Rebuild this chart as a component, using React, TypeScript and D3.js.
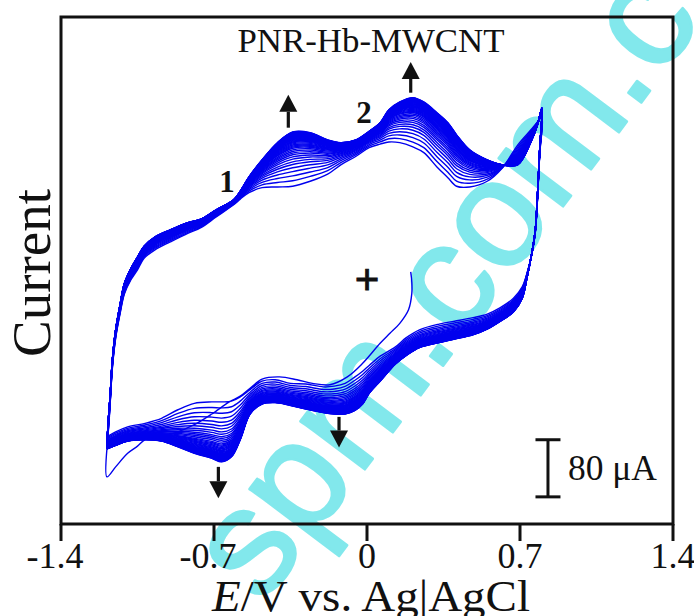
import React from 'react';
import * as d3 from 'd3';

// ---- axis ----
const xTicks = [-1.4, -0.7, 0, 0.7, 1.4];

// ---- forward (anodic) scan, potentials in V and currents in µA ----
const fwdE = [-1.185, -1.175, -1.165, -1.15, -1.13, -1.11, -1.08, -1.05, -1.02, -0.97, -0.9, -0.82, -0.76, -0.69, -0.61, -0.58, -0.54, -0.48, -0.41, -0.34, -0.26, -0.18, -0.12, -0.05, 0.01, 0.06, 0.1, 0.15, 0.21, 0.26, 0.32, 0.37, 0.41, 0.47, 0.55, 0.62, 0.69, 0.75, 0.78, 0.8];
const fwdFirst = [-215, -171, -122, -80, -46, -18, 2, 16, 32, 44, 55, 67, 75, 90, 107, 115, 124, 131, 132, 133, 140, 150, 163, 175, 187, 192, 195, 194, 188, 180, 160, 145, 133, 132, 140, 159, 191, 212, 223, 229];
const fwdLast = [-201, -159, -110, -68, -33, -3, 18, 34, 49, 62, 72, 82, 87, 100, 114, 126, 146, 170, 194, 209, 208, 198, 194, 198, 210, 222, 240, 251, 257, 251, 236, 222, 205, 184, 170, 163, 163, 195, 219, 243];

// ---- reverse (cathodic) scan ----
const revE = [0.79, 0.78, 0.77, 0.755, 0.73, 0.71, 0.67, 0.61, 0.55, 0.485, 0.4, 0.33, 0.24, 0.18, 0.13, 0.06, 0.01, -0.02, -0.055, -0.1, -0.15, -0.2, -0.28, -0.35, -0.42, -0.48, -0.535, -0.58, -0.62, -0.665, -0.71, -0.79, -0.865, -0.94, -1.015, -1.095, -1.15, -1.19];
const revFirst = [177, 114, 68, 39, 9, -8, -24, -37, -46, -51, -56, -60, -68, -79, -92, -105, -118, -126, -134, -143, -147, -148, -144, -143, -138, -140, -152, -162, -168, -169, -169, -171, -180, -192, -199, -204, -211, -218];
const revLast = [184, 121, 72, 41, 2, -24, -43, -56, -67, -75, -81, -86, -93, -104, -116, -140, -157, -172, -181, -186, -186, -184, -179, -174, -170, -172, -186, -222, -246, -253, -248, -241, -232, -224, -222, -224, -230, -235];

// ---- first sweep, starting at 0.2 V going negative ----
const initE = [0.2, 0.205, 0.205, 0.19, 0.15, 0.105, 0.06, -0.02, -0.09, -0.17, -0.25, -0.32, -0.4, -0.48, -0.535, -0.58, -0.63, -0.71, -0.79, -0.865, -0.94, -1.015, -1.05, -1.095, -1.15, -1.19];
const initI = [13, -1, -17, -40, -59, -73, -87, -115, -134, -145, -143, -138, -134, -137, -150, -161, -169, -186, -201, -211, -218, -222, -231, -241, -260, -274];

// ---- growth of each successive cycle between the first and last curve ----
const cycleFractions = [0, 0.1, 0.19, 0.27, 0.34, 0.4, 0.45, 0.5, 0.54, 0.58, 0.61, 0.64, 0.67, 0.7, 0.72, 0.74, 0.76, 0.78, 0.8, 0.815, 0.83, 0.845, 0.86, 0.87, 0.88, 0.89, 0.9, 0.91, 0.92, 0.925, 0.93, 0.935, 0.94, 0.945, 0.95, 0.955, 0.96, 0.965, 0.97, 0.975, 0.98, 0.985, 0.99, 0.995, 1];

// ---- annotations (data units) ----
const arrowE = [-0.36, 0.2, -0.68, -0.128];
const arrowFrom = [215, 264, -260, -190];
const arrowTo = [261, 307, -304, -233];
const peakLabels = ['1', '2'];
const peakLabelE = [-0.64, -0.014];
const peakLabelI = [125, 222];
const scaleBarUA = 80;
const scaleBarE = 0.828;
const scaleBarTopI = -222;

export default function App() {
  const W = 694;
  const H = 616;
  const L = 61, R = 673, T = 17, B = 524;
  const x = d3.scaleLinear().domain([-1.4, 1.4]).range([L, R]);
  const y = d3.scaleLinear().domain([-340, 370]).range([B, T]);
  const line = d3
    .line<[number, number]>()
    .x((d) => x(d[0]))
    .y((d) => y(d[1]))
    .curve(d3.curveCatmullRom.alpha(0.5));

  const mix = (a: number[], b: number[], f: number) => a.map((v, i) => v + f * (b[i] - v));

  const paths: string[] = [];
  let prev: [number, number][] = initE.map((e, i) => [e, initI[i]] as [number, number]);
  cycleFractions.forEach((f) => {
    const fw = mix(fwdFirst, fwdLast, f);
    const rv = mix(revFirst, revLast, f);
    const pts: [number, number][] = [
      ...prev,
      ...fwdE.map((e, i) => [e, fw[i]] as [number, number]),
      ...revE.map((e, i) => [e, rv[i]] as [number, number]),
    ];
    paths.push(line(pts) || '');
    prev = [[revE[revE.length - 1], rv[rv.length - 1]]];
  });

  const serif = '"Liberation Serif", "Times New Roman", serif';

  const arrows = arrowE.map((e, i) => {
    const ax = x(e);
    const y1 = y(arrowFrom[i]);
    const y2 = y(arrowTo[i]);
    const dir = y2 < y1 ? -1 : 1;
    const headL = 17;
    const headW = 9;
    const baseY = y2 - dir * headL;
    return (
      <g key={'a' + i}>
        <line x1={ax} x2={ax} y1={y1} y2={baseY} stroke="#111" strokeWidth={3.2} />
        <path d={`M${ax},${y2} L${ax - headW},${baseY} L${ax + headW},${baseY} Z`} fill="#111" />
      </g>
    );
  });

  const sbx = x(scaleBarE);
  const sbTop = y(scaleBarTopI);
  const sbBot = y(scaleBarTopI - scaleBarUA);

  return (
    <svg
      width={W}
      height={H}
      viewBox={`0 0 ${W} ${H}`}
      style={{ position: 'fixed', left: 0, top: 0, display: 'block', background: '#fff' }}
    >
      <rect x={0} y={0} width={W} height={H} fill="#fff" />
      {/* watermark */}
      <text
        transform="translate(262,606) rotate(-53)"
        fontFamily='"Liberation Sans", Arial, sans-serif'
        fontSize={152}
        fill="#82e8ec"
        stroke="#82e8ec"
        strokeWidth={2.5}
        strokeLinejoin="round"
      >
        spm.com.cn
      </text>

      {/* curves */}
      <g fill="none" stroke="#0000ee" strokeWidth={1.4} strokeLinejoin="round">
        {paths.map((d, i) => (
          <path key={i} d={d} />
        ))}
      </g>

      {/* frame */}
      <rect x={L} y={T} width={R - L} height={B - T} fill="none" stroke="#111" strokeWidth={3} />
      {xTicks.map((t) => (
        <g key={t}>
          <line x1={x(t)} x2={x(t)} y1={B} y2={B + 17} stroke="#111" strokeWidth={3} />
          <text
            x={x(t) + (t < 0 ? -6 : 0)}
            y={568}
            textAnchor="middle"
            fontFamily={serif}
            fontSize={36}
            fill="#111"
          >
            {t === 0 ? '0' : String(t)}
          </text>
        </g>
      ))}

      {/* axis titles */}
      <text
        x={371}
        y={611}
        textAnchor="middle"
        fontFamily={serif}
        fontSize={44}
        fill="#111"
        textLength={318}
        lengthAdjust="spacingAndGlyphs"
      >
        <tspan fontStyle="italic">E</tspan>
        <tspan>/V vs. Ag|AgCl</tspan>
      </text>
      <text
        transform="translate(50,273) rotate(-90)"
        textAnchor="middle"
        fontFamily={serif}
        fontSize={55}
        fill="#111"
      >
        Current
      </text>

      {/* title */}
      <text
        x={371}
        y={52}
        textAnchor="middle"
        fontFamily={serif}
        fontSize={33}
        fill="#111"
        textLength={267}
        lengthAdjust="spacingAndGlyphs"
      >
        PNR-Hb-MWCNT
      </text>

      {/* peak labels */}
      {peakLabels.map((s, i) => (
        <text
          key={s}
          x={x(peakLabelE[i])}
          y={y(peakLabelI[i])}
          textAnchor="middle"
          fontFamily={serif}
          fontWeight="bold"
          fontSize={31}
          fill="#111"
        >
          {s}
        </text>
      ))}
      <text
        x={x(0)}
        y={y(0) + 13}
        textAnchor="middle"
        fontFamily={serif}
        fontWeight="bold"
        fontSize={44}
        fill="#111"
        stroke="#111"
        strokeWidth={0.8}
      >
        +
      </text>

      {arrows}

      {/* scale bar */}
      <g stroke="#111" strokeWidth={3}>
        <line x1={sbx} x2={sbx} y1={sbTop} y2={sbBot} />
        <line x1={sbx - 12.5} x2={sbx + 12.5} y1={sbTop} y2={sbTop} />
        <line x1={sbx - 12.5} x2={sbx + 12.5} y1={sbBot} y2={sbBot} />
      </g>
      <text
        x={568}
        y={480}
        fontFamily={serif}
        fontSize={36}
        fill="#111"
        textLength={89}
        lengthAdjust="spacingAndGlyphs"
      >
        {`${scaleBarUA} μA`}
      </text>
    </svg>
  );
}
